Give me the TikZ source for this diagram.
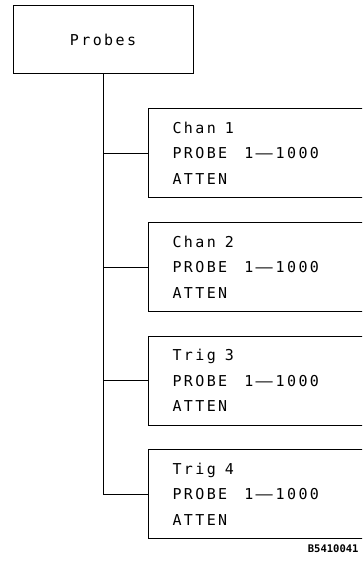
\documentclass[tikz,border=0pt]{standalone}
\usepackage{graphicx}
\usepackage{fontspec}
\setmonofont{DejaVu Sans Mono}
\newcommand{\keyfont}{\ttfamily\addfontfeatures{LetterSpace=16}\fontsize{15}{25.5}\selectfont}
\newcommand{\gap}{\hspace{9pt}}
\newcommand{\range}{1\hspace{2pt}\scalebox{1.9}[1]{—}\hspace{3pt}1000}

\begin{document}
\begin{tikzpicture}[x=1pt, y=-1pt,
  menubox/.style={draw, line width=1pt, anchor=west, text width=192pt,
    minimum height=89pt, inner xsep=24pt, align=left, font=\keyfont},
  link/.style={line width=0.9pt}]
  \useasboundingbox (0,0) rectangle (362,567);
  \clip (0,0) rectangle (362,567);
  % top box
  \node[draw, line width=1pt, minimum width=180pt, minimum height=68pt, font=\keyfont]
    (probes) at (103,40) {Probes};
  % softkey boxes (running off the right edge)
  \node[menubox] (chan1) at (148,153)   {Chan\gap 1\\\makebox[72pt][l]{PROBE}\range\\ATTEN};
  \node[menubox] (chan2) at (148,267)   {Chan\gap 2\\\makebox[72pt][l]{PROBE}\range\\ATTEN};
  \node[menubox] (trig3) at (148,380.5) {Trig\gap 3\\\makebox[72pt][l]{PROBE}\range\\ATTEN};
  \node[menubox] (trig4) at (148,494)   {Trig\gap 4\\\makebox[72pt][l]{PROBE}\range\\ATTEN};
  % trunk and branches
  \draw[link] (probes.south) -- (probes.south |- trig4.west);
  \foreach \k in {chan1,chan2,trig3,trig4}
    \draw[link] (probes.south |- \k.west) -- (\k.west);
  % figure code
  \node[anchor=east, font=\ttfamily\bfseries\fontsize{10.5}{10.5}\selectfont] (code) at (362,549) {B5410041};
\end{tikzpicture}
\end{document}
